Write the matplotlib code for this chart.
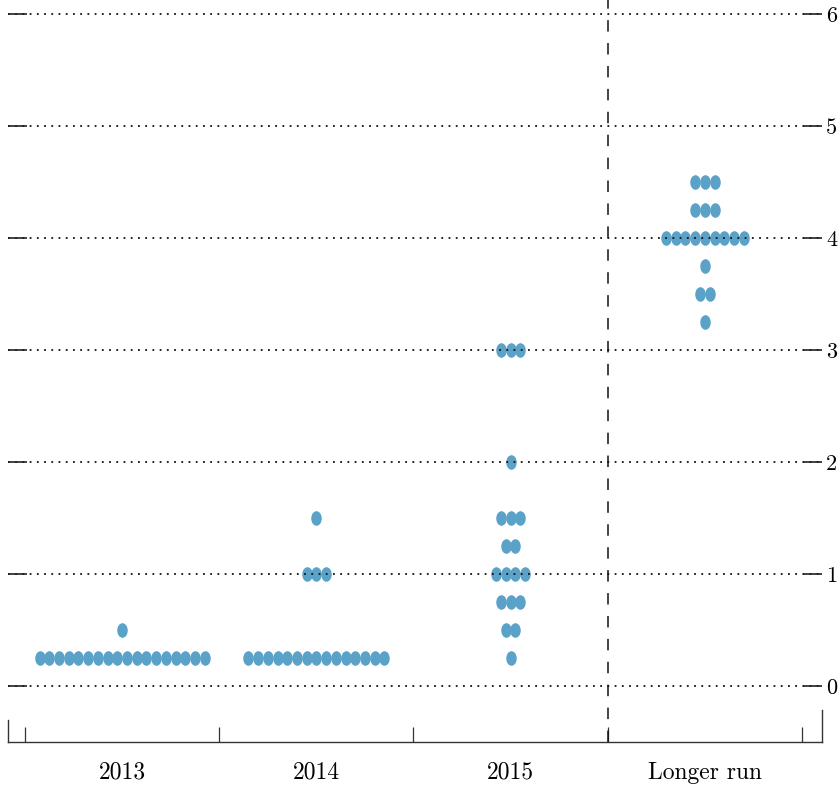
import matplotlib
matplotlib.use("Agg")
import matplotlib.pyplot as plt
from matplotlib.path import Path
from matplotlib.transforms import Affine2D

categories = ["2013", "2014", "2015", "Longer run"]
rates_2013 = [0.25, 0.5]
counts_2013 = [18, 1]
rates_2014 = [0.25, 1.0, 1.5]
counts_2014 = [15, 3, 1]
rates_2015 = [0.25, 0.5, 0.75, 1.0, 1.25, 1.5, 2.0, 3.0]
counts_2015 = [1, 2, 3, 4, 2, 3, 1, 3]
rates_lr = [3.25, 3.5, 3.75, 4.0, 4.25, 4.5]
counts_lr = [1, 2, 1, 9, 3, 3]
y_ticks = [0, 1, 2, 3, 4, 5, 6]

groups = [(rates_2013, counts_2013), (rates_2014, counts_2014),
          (rates_2015, counts_2015), (rates_lr, counts_lr)]

dot_color = "#5aa2c8"
step = 0.05
ellipse = Path.unit_circle().transformed(Affine2D().scale(0.72, 1.0))

fig = plt.figure(figsize=(8.4, 7.87), dpi=100)
ax = fig.add_axes([8 / 840, 45 / 787, (822 - 8) / 840, 742 / 787])

for ci, (rates, counts) in enumerate(groups):
    xs, ys = [], []
    for r, n in zip(rates, counts):
        for i in range(n):
            xs.append(ci + (i - (n - 1) / 2) * step)
            ys.append(r)
    ax.plot(xs, ys, linestyle="none", marker=ellipse, markersize=10.5,
            color=dot_color, markeredgewidth=0, zorder=2)

ax.set_xlim(-0.5875, 3.603)
ax.set_ylim(-0.5, 6.125)

# y axis: ticks inward on both sides, labels on right
ax.set_yticks(y_ticks)
ax.yaxis.set_ticks_position("both")
ax.tick_params(axis="y", which="major", direction="in", length=13.5, width=1.2,
               left=True, right=True, labelleft=False, labelright=True,
               pad=3, labelsize=16, color="#222222")
ax.grid(axis="y", color="#111111", linestyle=(0, (1, 3)), linewidth=1.3)
ax.set_axisbelow(False)

# x axis: boundary ticks inward, category labels centered
bounds = [i - 0.5 for i in range(len(categories) + 1)]
ax.set_xticks(bounds)
ax.set_xticklabels([])
ax.set_xticks(range(len(categories)), minor=True)
ax.set_xticklabels(categories, minor=True)
ax.tick_params(axis="x", which="major", direction="in", length=11, width=0.9,
               color="#333333")
ax.tick_params(axis="x", which="minor", length=0, pad=14, labelsize=17)

for lab in ax.get_xticklabels(minor=True) + ax.get_yticklabels():
    lab.set_fontfamily("cmr10")

ax.axvline(2.5, color="#111111", linestyle=(0, (7.5, 7.5)), linewidth=1.1,
           zorder=3)

ax.spines["top"].set_visible(False)
ax.spines["left"].set_bounds(-0.5, -0.3)
ax.spines["right"].set_bounds(-0.5, -0.21)
for s in ["left", "right", "bottom"]:
    ax.spines[s].set_linewidth(1.0)
    ax.spines[s].set_color("#333333")

fig.savefig("out.png", dpi=100)
